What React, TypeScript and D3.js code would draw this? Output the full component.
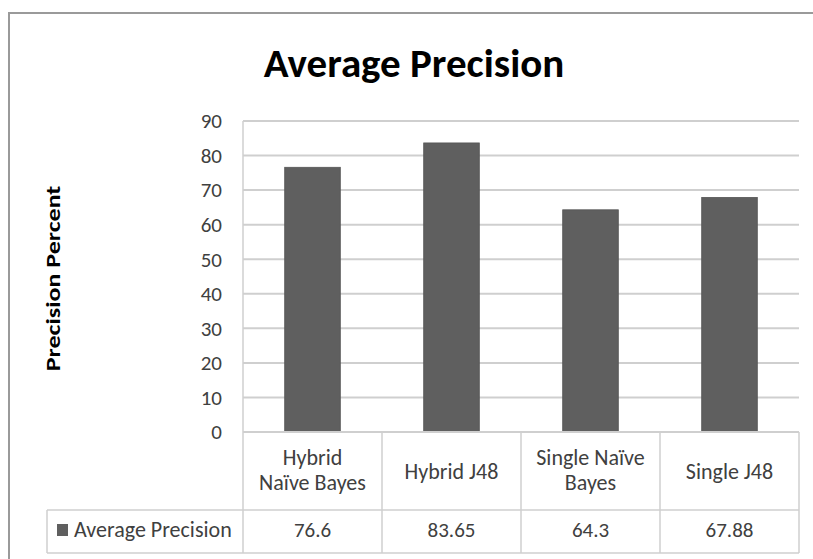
import React from "react";
import * as d3 from "d3";

const categories: string[][] = [["Hybrid", "Naïve Bayes"], ["Hybrid J48"], ["Single Naïve", "Bayes"], ["Single J48"]];
const values: number[] = [76.6, 83.65, 64.3, 67.88];
const valueLabels: string[] = ["76.6", "83.65", "64.3", "67.88"];
const yTicks: number[] = [0, 10, 20, 30, 40, 50, 60, 70, 80, 90];
const seriesName = "Average Precision";
const title = "Average Precision";
const yTitle = "Precision Percent";

const W = 813, H = 559;
const plot = { left: 243, right: 799, top: 121, bottom: 432 };
const FONT = "Carlito, Lato, 'Open Sans', sans-serif";
const BAR = "#5f5f5f";
const GRID = "#cfcfcf";
const TXT = "#404040";

export default function App() {
  const x = d3.scaleBand<number>().domain(d3.range(values.length)).range([plot.left, plot.right]).paddingInner(0.6).paddingOuter(0.3);
  const xc = d3.scaleBand<number>().domain(d3.range(values.length)).range([plot.left, plot.right]);
  const y = d3.scaleLinear().domain([0, 90]).range([plot.bottom, plot.top]);
  const tableBottom1 = 510;
  const tableBottom2 = 553;
  const legendLeft = 47;
  return (
    <svg width={W} height={H} style={{ position: "absolute", left: 0, top: 0, background: "#fff" }} fontFamily={FONT}>
      <rect x={9} y={13} width={W + 10} height={H + 10} fill="#fff" stroke="#9a9a9a" strokeWidth={2} />
      <text x={414} y={77} textAnchor="middle" fontSize={41} fontWeight="bold" fill="#000">{title}</text>
      <text transform={`translate(60,${(plot.top + plot.bottom) / 2 + 2}) rotate(-90) scale(1.3,1)`} textAnchor="middle" fontSize={20} fontWeight="bold" fill="#000">{yTitle}</text>
      {yTicks.map((t) => (
        <g key={t}>
          {t > 0 && <line x1={plot.left} x2={plot.right} y1={y(t)} y2={y(t)} stroke={GRID} strokeWidth={2} />}
          <text x={222} y={y(t)} dy="0.35em" textAnchor="end" fontSize={21} fill={TXT}>{t}</text>
        </g>
      ))}
      {values.map((v, i) => (
        <rect key={i} x={x(i)} y={y(v)} width={x.bandwidth()} height={y(0) - y(v)} fill={BAR} stroke="#555" strokeWidth={0.8} />
      ))}
      <line x1={plot.left} x2={plot.left} y1={plot.top} y2={tableBottom2} stroke={GRID} strokeWidth={1.5} />
      <line x1={plot.left} x2={plot.right} y1={plot.bottom} y2={plot.bottom} stroke={GRID} strokeWidth={2} />
      {values.map((_, i) => (
        <line key={i} x1={(xc(i) as number) + xc.bandwidth()} x2={(xc(i) as number) + xc.bandwidth()} y1={plot.bottom} y2={tableBottom2} stroke={GRID} strokeWidth={1.5} />
      ))}
      <line x1={legendLeft} x2={plot.right} y1={tableBottom1} y2={tableBottom1} stroke={GRID} strokeWidth={1.5} />
      <line x1={legendLeft} x2={plot.right} y1={tableBottom2} y2={tableBottom2} stroke={GRID} strokeWidth={1.5} />
      <line x1={legendLeft} x2={legendLeft} y1={tableBottom1} y2={tableBottom2} stroke={GRID} strokeWidth={1.5} />
      {categories.map((lines, i) => {
        const cx = (xc(i) as number) + xc.bandwidth() / 2;
        const lh = 25;
        const base = lines.length === 1 ? 479 : 465;
        return lines.map((l, j) => (
          <text key={`${i}-${j}`} x={cx} y={base + j * lh} textAnchor="middle" fontSize={22} fill={TXT}>{l}</text>
        ));
      })}
      {valueLabels.map((l, i) => (
        <text key={i} x={(xc(i) as number) + xc.bandwidth() / 2} y={537} textAnchor="middle" fontSize={21} fill={TXT}>{l}</text>
      ))}
      <rect x={57} y={524} width={11} height={12} fill={BAR} />
      <text x={74} y={537} fontSize={22} fill={TXT}>{seriesName}</text>
    </svg>
  );
}
